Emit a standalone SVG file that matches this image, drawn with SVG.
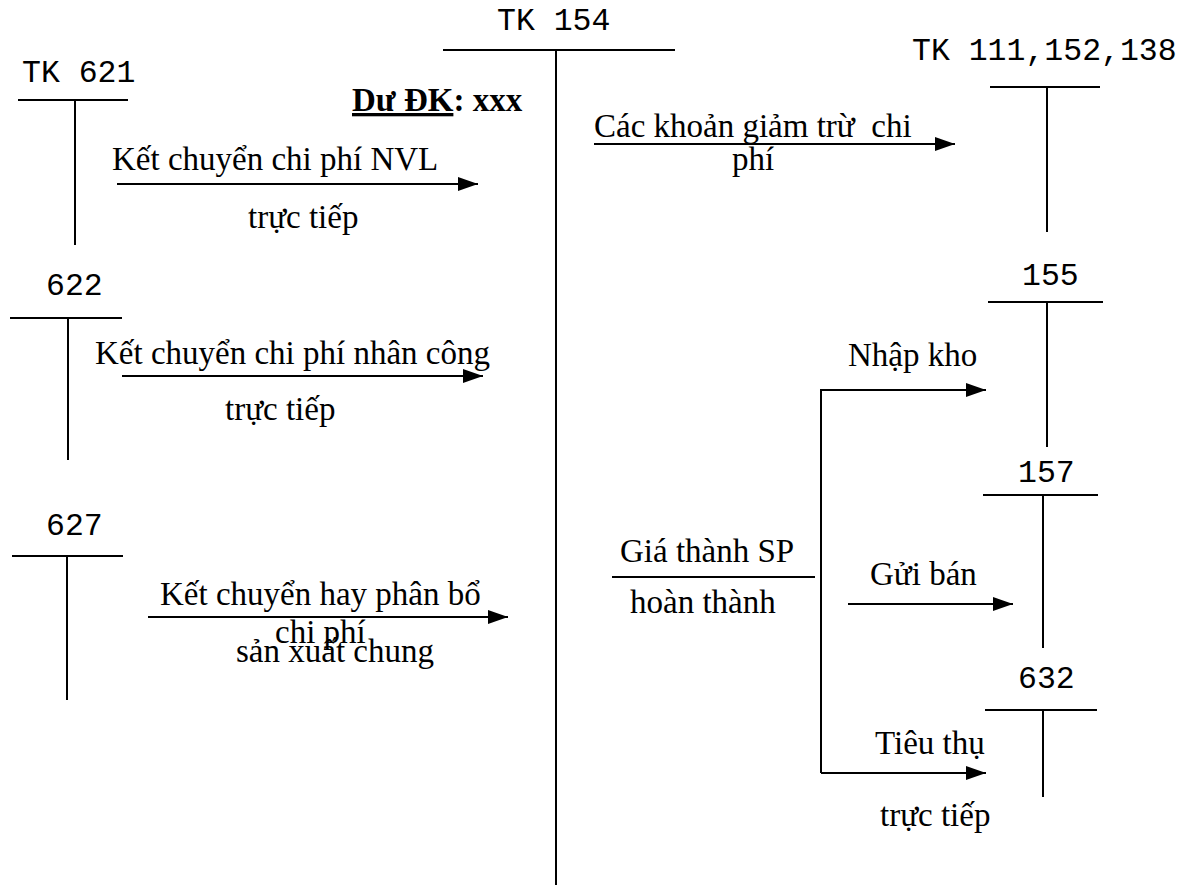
<svg xmlns="http://www.w3.org/2000/svg" width="1184" height="890" viewBox="0 0 1184 890">
<style>
.ln{stroke:#000;stroke-width:2;fill:none}
.mono{font-family:"Liberation Mono","DejaVu Sans Mono",monospace;font-size:31.5px;fill:#000}
.ser{font-family:"Liberation Serif","DejaVu Serif",serif;font-size:33px;fill:#000}
.bold{font-family:"Liberation Serif","DejaVu Serif",serif;font-size:33px;font-weight:bold;fill:#000}
</style>
<defs>
<marker id="ah" viewBox="0 0 20 14" refX="20" refY="7" markerWidth="20" markerHeight="14" markerUnits="userSpaceOnUse" orient="auto">
<path d="M0,0 L20,7 L0,14 Z" fill="#000"/>
</marker>
</defs>
<rect width="1184" height="890" fill="#fff"/>
<g id="tk621">
<text class="mono" x="22" y="82">TK 621</text>
<line class="ln" x1="18" y1="100" x2="128" y2="100"/>
<line class="ln" x1="75" y1="100" x2="75" y2="245"/>
</g>
<g id="tk622">
<text class="mono" x="46" y="295">622</text>
<line class="ln" x1="10" y1="318" x2="122" y2="318"/>
<line class="ln" x1="68" y1="318" x2="68" y2="460"/>
</g>
<g id="tk627">
<text class="mono" x="46" y="535">627</text>
<line class="ln" x1="12" y1="556" x2="123" y2="556"/>
<line class="ln" x1="67" y1="556" x2="67" y2="700"/>
</g>
<g id="tk154">
<text class="mono" x="497" y="30">TK 154</text>
<line class="ln" x1="443" y1="50" x2="675" y2="50"/>
<line class="ln" x1="556" y1="50" x2="556" y2="885"/>
<text class="bold" x="352" y="111"><tspan text-decoration="underline">Dư ĐK</tspan>: xxx</text>
</g>
<g id="tk111">
<text class="mono" x="912" y="60">TK 111,152,138</text>
<line class="ln" x1="990" y1="87" x2="1100" y2="87"/>
<line class="ln" x1="1047" y1="87" x2="1047" y2="232"/>
</g>
<g id="tk155">
<text class="mono" x="1022" y="285">155</text>
<line class="ln" x1="988" y1="302" x2="1103" y2="302"/>
<line class="ln" x1="1047" y1="302" x2="1047" y2="447"/>
</g>
<g id="tk157">
<text class="mono" x="1018" y="482">157</text>
<line class="ln" x1="983" y1="495" x2="1098" y2="495"/>
<line class="ln" x1="1043" y1="495" x2="1043" y2="648"/>
</g>
<g id="tk632">
<text class="mono" x="1018" y="688">632</text>
<line class="ln" x1="985" y1="710" x2="1097" y2="710"/>
<line class="ln" x1="1043" y1="710" x2="1043" y2="797"/>
</g>
<g id="gia-thanh">
<text class="ser" x="620" y="562">Giá thành SP</text>
<line class="ln" x1="612" y1="577" x2="815" y2="577"/>
<text class="ser" x="630" y="613">hoàn thành</text>
</g>
<g id="connectors">
<line class="ln" x1="117" y1="184" x2="478" y2="184" marker-end="url(#ah)"/>
<line class="ln" x1="122" y1="376" x2="483" y2="376" marker-end="url(#ah)"/>
<line class="ln" x1="148" y1="617" x2="508" y2="617" marker-end="url(#ah)"/>
<line class="ln" x1="594" y1="144" x2="955" y2="144" marker-end="url(#ah)"/>
<polyline class="ln" points="821,773 821,390 986,390" marker-end="url(#ah)"/>
<line class="ln" x1="848" y1="604" x2="1013" y2="604" marker-end="url(#ah)"/>
<line class="ln" x1="821" y1="773" x2="986" y2="773" marker-end="url(#ah)"/>
</g>
<g id="labels">
<text class="ser" x="112" y="170">Kết chuyển chi phí NVL</text>
<text class="ser" x="248" y="228">trực tiếp</text>
<text class="ser" x="95" y="364">Kết chuyển chi phí nhân công</text>
<text class="ser" x="225" y="420">trực tiếp</text>
<text class="ser" x="160" y="605">Kết chuyển hay phân bổ</text>
<text class="ser" x="275" y="643">chi phí</text>
<text class="ser" x="236" y="662">sản xuất chung</text>
<text class="ser" x="594" y="137">Các khoản giảm trừ&#160; chi</text>
<text class="ser" x="732" y="170">phí</text>
<text class="ser" x="848" y="366">Nhập kho</text>
<text class="ser" x="870" y="585">Gửi bán</text>
<text class="ser" x="875" y="754">Tiêu thụ</text>
<text class="ser" x="880" y="826">trực tiếp</text>
</g>
</svg>
